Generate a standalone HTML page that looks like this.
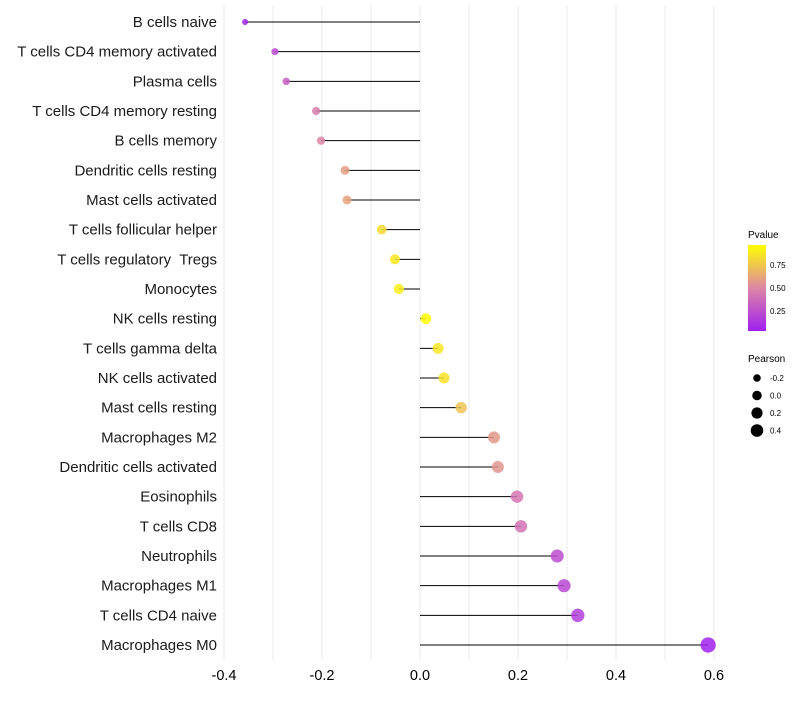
<!DOCTYPE html>
<html><head><meta charset="utf-8"><style>
body{margin:0;background:#fff}
text{font-family:"Liberation Sans",sans-serif;white-space:pre}
</style></head><body>
<svg id="c" width="800" height="700" xmlns="http://www.w3.org/2000/svg">
<defs><linearGradient id="pg" x1="0" y1="1" x2="0" y2="0">
<stop offset="0" stop-color="#a020f0"/><stop offset="0.5" stop-color="#dd86a5"/><stop offset="1" stop-color="#ffff00"/></linearGradient></defs>
<g id="grid"></g><g id="marks"></g><g id="ylab"></g><g id="xlab"></g>
<g>
<text x="748" y="238" font-size="10">Pvalue</text>
<rect x="748" y="245" width="18" height="86" fill="url(#pg)"/>
<text x="770" y="268" font-size="8">0.75</text>
<text x="770" y="291" font-size="8">0.50</text>
<text x="770" y="314" font-size="8">0.25</text>
</g>
<g id="sizeleg">
<text x="748" y="362" font-size="10">Pearson</text>
</g>
</svg>
<script>
const categories=["B cells naive","T cells CD4 memory activated","Plasma cells","T cells CD4 memory resting","B cells memory","Dendritic cells resting","Mast cells activated","T cells follicular helper","T cells regulatory  Tregs","Monocytes","NK cells resting","T cells gamma delta","NK cells activated","Mast cells resting","Macrophages M2","Dendritic cells activated","Eosinophils","T cells CD8","Neutrophils","Macrophages M1","T cells CD4 naive","Macrophages M0"];
const pearson=[-0.357,-0.296,-0.273,-0.212,-0.202,-0.153,-0.149,-0.078,-0.051,-0.043,0.012,0.037,0.049,0.084,0.151,0.159,0.198,0.206,0.280,0.294,0.322,0.588];
const pvalue=[0.03,0.2,0.3,0.45,0.5,0.6,0.62,0.85,0.9,0.93,0.99,0.9,0.88,0.75,0.58,0.56,0.42,0.4,0.22,0.2,0.15,0.01];
const xTicks=[-0.4,-0.2,0.0,0.2,0.4,0.6];
const sizeLegend=[-0.2,0.0,0.2,0.4];
const NS="http://www.w3.org/2000/svg";
const x=v=>420+v*490;
const y=i=>22+i*(623/21);
const r=v=>Math.sqrt(Math.max(2,28+52*v));
function lerp(a,b,t){return a.map((c,k)=>Math.round(c+(b[k]-c)*t));}
function col(p){const P=[160,32,240],M=[221,134,165],Y=[255,255,0];
 const c=p<0.5?lerp(P,M,p/0.5):lerp(M,Y,(p-0.5)/0.5);return `rgb(${c})`;}
function mk(tag,attrs,parent){const e=document.createElementNS(NS,tag);for(const k in attrs)e.setAttribute(k,attrs[k]);parent.appendChild(e);return e;}
const grid=document.getElementById('grid'),marks=document.getElementById('marks'),ylab=document.getElementById('ylab'),xlab=document.getElementById('xlab');
for(let v=-0.4;v<=0.61;v+=0.1){const g=mk('line',{x1:x(v),x2:x(v),y1:5,y2:660,stroke:'#ebebeb','stroke-width':1},grid);

}
xTicks.forEach(t=>{const e=mk('text',{x:x(t),y:680,'font-size':14.5,'text-anchor':'middle',fill:'#000'},xlab);e.textContent=t.toFixed(1);

});
categories.forEach((c,i)=>{
 const t=mk('text',{x:217,y:y(i)+5,'font-size':15,'text-anchor':'end',fill:'#1a1a1a'},ylab);t.textContent=c;
 
 
 const ln=mk('line',{x1:x(0),x2:x(pearson[i]),y1:y(i),y2:y(i),stroke:'#000','stroke-width':1},marks);
 
 
 const p=mk('circle',{cx:x(pearson[i]),cy:y(i),r:r(pearson[i]),fill:col(pvalue[i]),'fill-opacity':0.85},marks);
 
 
});
const sl=document.getElementById('sizeleg');
sizeLegend.forEach((v,i)=>{const cy=378+i*17.5;
 const c=mk('circle',{cx:757,cy:cy,r:r(v)*0.9,fill:'#000'},sl);
 
 
 const t=mk('text',{x:770,y:cy+3,'font-size':8},sl);t.textContent=v.toFixed(1);
 
 });
</script>
</body></html>
